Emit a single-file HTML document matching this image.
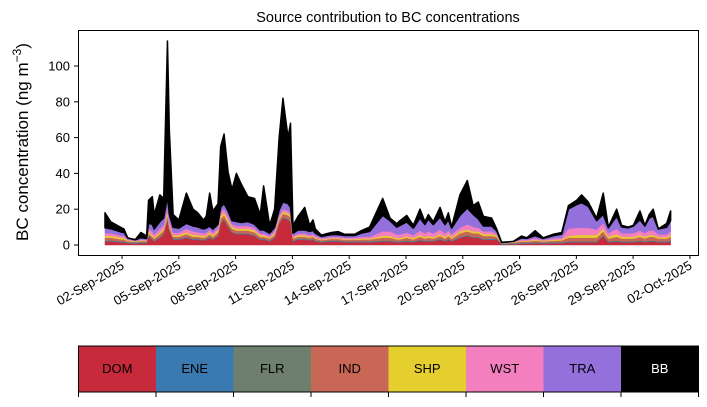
<!DOCTYPE html>
<html><head><meta charset="utf-8"><style>
body{margin:0;background:#fff;font-family:"Liberation Sans",sans-serif}
svg text{font-family:"Liberation Sans",sans-serif}
</style></head><body>
<svg id="chart" width="707" height="402">
<text x="388" y="22" text-anchor="middle" font-size="14.5">Source contribution to BC concentrations</text>
<text transform="translate(28,142) rotate(-90)" text-anchor="middle" font-size="17">BC concentration (ng m<tspan baseline-shift="super" font-size="12">−3</tspan>)</text>
<g id="areas"></g>
<rect x="78.5" y="30.5" width="620" height="225" fill="none" stroke="#000" stroke-width="1"/>
<g id="yticks"></g>
<g id="xticks"></g>
<g id="legend"></g>
</svg>
<script>
const names=["DOM","ENE","FLR","IND","SHP","WST","TRA","BB"];
const colors=["#c62a3b","#3a7ab0","#6e7f6e","#c96756","#e5cf2e","#f47fbf","#9370db","#000000"];
const days=[0.1,0.4,1.0,1.1,1.3,1.7,2.0,2.3,2.4,2.6,2.7,3.0,3.2,3.4,3.5,3.7,4.0,4.4,4.75,5.0,5.3,5.45,5.63,5.8,6.07,6.21,6.39,6.6,6.81,7.04,7.3,7.65,8.0,8.3,8.48,8.8,9.06,9.3,9.5,9.77,9.9,10.03,10.3,10.65,10.91,11.09,11.21,11.53,12.06,12.41,12.76,13.29,13.64,14.08,14.77,15.16,15.51,15.68,16.04,16.39,16.74,17.0,17.18,17.44,17.8,18.06,18.24,18.41,18.85,19.24,19.55,19.82,20.09,20.53,20.79,21.05,21.67,22.11,22.38,22.82,23.25,23.79,24.23,24.58,25.02,25.28,25.63,26.07,26.42,26.69,27.13,27.39,27.74,28.01,28.36,28.62,28.85,29.06,29.33,29.77,29.98];
const DOM=[2,2,1.5,1.5,1,0.8,1,1,5,3,2,4,6,14,8,3,3,4,3,3,2.5,3,4,3,5,12,14,10,7,6,6,6,5,3,3,2,4,12,15,14,13,2,3,3,2.5,3,2,1.5,2,2,1.5,1.5,1.5,1.5,2,2,1.5,1.5,2,1.5,2.5,2,2,2,3,2,3,2,4,5,4,4,3,3,3,0.3,0.4,0.8,0.8,1,0.8,1,1,1.5,1.5,1.5,1.5,1.5,5,1.5,2,1.5,1.5,1.5,2,1.5,2,2,1.5,1.5,2];
const ENE=[0.3,0.3,0.3,0.3,0.3,0.3,0.3,0.3,0.3,0.3,0.3,0.3,0.3,0.3,0.3,0.3,0.3,0.3,0.3,0.3,0.3,0.3,0.3,0.3,0.3,0.3,0.3,0.3,0.3,0.3,0.3,0.3,0.3,0.3,0.3,0.3,0.3,0.3,0.3,0.3,0.3,0.3,0.3,0.3,0.3,0.3,0.3,0.3,0.3,0.3,0.3,0.3,0.3,0.3,0.3,0.3,0.3,0.3,0.3,0.3,0.3,0.3,0.3,0.3,0.3,0.3,0.3,0.3,0.3,0.3,0.3,0.3,0.3,0.3,0.3,0.3,0.3,0.3,0.3,0.3,0.3,0.3,0.3,0.3,0.3,0.3,0.3,0.3,0.3,0.3,0.3,0.3,0.3,0.3,0.3,0.3,0.3,0.3,0.3,0.3,0.3];
const FLR=[0.3,0.3,0.3,0.3,0.3,0.3,0.3,0.3,0.3,0.3,0.3,0.3,0.3,0.3,0.3,0.3,0.3,0.3,0.3,0.3,0.3,0.3,0.3,0.3,0.3,0.3,0.3,0.3,0.3,0.3,0.3,0.3,0.3,0.3,0.3,0.3,0.3,0.3,0.3,0.3,0.3,0.3,0.3,0.3,0.3,0.3,0.3,0.3,0.3,0.3,0.3,0.3,0.3,0.3,0.3,0.3,0.3,0.3,0.3,0.3,0.3,0.3,0.3,0.3,0.3,0.3,0.3,0.3,0.3,0.3,0.3,0.3,0.3,0.3,0.3,0.3,0.3,0.3,0.3,0.3,0.3,0.3,0.3,0.3,0.3,0.3,0.3,0.3,0.3,0.3,0.3,0.3,0.3,0.3,0.3,0.3,0.3,0.3,0.3,0.3,0.3];
const IND=[1.5,1.5,1,1,0.5,0.4,0.6,0.5,1,1,1,1.5,1.5,2,1.5,1,1,1.5,1,1,1,1,1.5,1,1.5,2,2,2,1.5,1.5,1.5,1.5,1.5,1,1,1,1,1.5,2,2,2,1,1,1,1,1,1,0.6,0.8,0.8,0.8,0.8,1,1,1.5,1.5,1,1,1.5,1,1.5,1,1.5,1,1.5,1,1.5,1,2,2,2,2,1.5,1.5,1,0.1,0.3,0.6,0.6,0.8,0.6,0.8,1,2,2,2,2,2,2,1.5,2,1.5,1.5,1.5,2,1.5,2,2,1.5,1.5,2];
const SHP=[1,1,1,1,0.5,0.3,0.4,0.3,1,1,0.8,1,1,1.5,1,0.8,0.8,1,1,1,0.8,0.8,1,0.8,1,1.5,1.5,1.5,1,1,1,1,1,0.8,0.8,0.5,0.8,1,1,1,1,0.5,0.8,0.8,0.5,0.5,0.5,0.4,0.4,0.4,0.4,0.4,0.5,0.5,1,1,0.8,0.8,0.8,0.8,1,0.8,1,0.8,1,0.8,1,0.8,1,1,1,1,1,1,0.8,0.1,0.2,0.4,0.4,0.5,0.4,0.5,0.5,1,1.5,1.5,1.5,1.5,1.5,1,1.5,1,1,1,1,1,1,1,0.8,0.8,1];
const WST=[1.5,1.5,1,1,0.5,0.3,0.5,0.4,1.5,2,1.5,2,2,3,2,1.5,1.5,2,2,1.5,1.5,1.5,1.5,1.5,1.5,2,2,2,1.5,1.5,1.5,1.5,1.5,1,1,1,1.5,1.5,1.5,1.5,1.5,1,1,1,1,1,1,0.7,0.8,0.8,0.8,0.8,1,1,2.5,2.5,2,2,2,1.5,2.5,2,2.5,2,2.5,2,2,1.5,2,3,2.5,2,1.5,1.5,1,0.1,0.2,0.6,0.5,0.8,0.5,0.8,1,4,4,4,4,3,3,2,3,2,2,2,2.5,2,2.5,2.5,1.5,1.5,2];
const TRA=[3,2.5,2,2,0.8,0.5,1,0.8,3,4,3,4,4,6,4,3,2.5,3,3,3,2.5,2.5,2,2,2,3,3,3,2,2.5,2,2.5,2,2,2,1.5,2,3,4,4,3,1.5,2,2,2,2,1.5,1,1.2,1.2,1.2,1.2,2,3,9,6,4,5,6,4,7,5,7,5,7,5,6,3.5,7,9,7,5,3,3,1.5,0.2,0.3,1,0.8,1.5,0.8,1.5,2,11,13,14,12,5,5,3,7,3.5,3,4,6,4,7,8,3,4,6];
const BB=[8.4,3.9,2.4,1.9,0.1,0.1,2.9,1.4,12.9,15.4,8.1,14.9,10.9,86.9,46.9,7.1,4.6,16.9,9.4,7.9,5.1,6.6,18.4,10.1,11.4,33.9,38.9,21.9,17.4,26.9,21.4,13.9,14.4,8.6,24.6,4.4,10.1,40.4,57.9,36.9,46.9,4.4,7.6,12.6,3.4,5.9,2.4,0.7,1.2,1.7,0.7,0.7,1.4,2.4,9.4,1.4,2.1,2.7,3.6,1.6,4.9,1.6,2.4,1.6,5.4,1.6,3.9,0.6,11.4,15.4,4.9,9.4,5.4,4.4,1.1,0.1,0,1,0.3,2.8,0.3,0.8,0.9,1.9,2.4,4.4,2.4,1.4,11.9,0.4,3.9,0.9,0.4,0.4,4.9,0.4,1.9,3.9,0.1,2.1,5.4];
const series=[DOM,ENE,FLR,IND,SHP,WST,TRA,BB];
const yTicks=[0,20,40,60,80,100];
const xTickDays=[1,4,7,10,13,16,19,22,25,28,31];
const xTickLabels=["02-Sep-2025","05-Sep-2025","08-Sep-2025","11-Sep-2025","14-Sep-2025","17-Sep-2025","20-Sep-2025","23-Sep-2025","26-Sep-2025","29-Sep-2025","02-Oct-2025"];

const NS="http://www.w3.org/2000/svg";
const xs=d=>103.1+d*18.93;
const ys=v=>245-v*1.79;
function mk(tag,attrs,parent){const e=document.createElementNS(NS,tag);for(const k in attrs)e.setAttribute(k,attrs[k]);parent.appendChild(e);return e;}

const areas=document.getElementById('areas');
let base=days.map(()=>0);
series.forEach((s,i)=>{
  const top=base.map((b,j)=>b+s[j]);
  let pts=days.map((d,j)=>xs(d).toFixed(2)+","+ys(top[j]).toFixed(2));
  for(let j=days.length-1;j>=0;j--)pts.push(xs(days[j]).toFixed(2)+","+ys(base[j]).toFixed(2));
  const p=mk('polygon',{points:pts.join(" "),fill:colors[i],stroke:colors[i],'stroke-width':i==7?1.5:0.5,'stroke-linejoin':'round'},areas);
  
  
  base=top;
});

const yt=document.getElementById('yticks');
yTicks.forEach(v=>{
  const y=ys(v);
  mk('line',{x1:74,x2:78,y1:y,y2:y,stroke:'#000'},yt);
  const t=mk('text',{x:70,y:y+4.5,'text-anchor':'end','font-size':13},yt);
  t.textContent=v;
  
  
});
const xt=document.getElementById('xticks');
xTickDays.forEach((d,i)=>{
  const x=xs(d);
  mk('line',{x1:x,x2:x,y1:255,y2:259,stroke:'#000'},xt);
  const t=mk('text',{x:x+3,y:268,'text-anchor':'end','font-size':13,transform:`rotate(-30 ${x+3} 268)`},xt);
  t.textContent=xTickLabels[i];
  
  
});
const lg=document.getElementById('legend');
const cw=620/8;
names.forEach((n,i)=>{
  const x=78.5+i*cw;
  const r=mk('rect',{x:x,y:346,width:cw,height:46,fill:colors[i]},lg);
  
  
  const t=mk('text',{x:x+cw/2,y:373,'text-anchor':'middle','font-size':13,fill:i==7?'#fff':'#000'},lg);
  t.textContent=n;
  
  
});
mk('rect',{x:78.5,y:346,width:620,height:46,fill:'none',stroke:'#000','stroke-width':1},lg);
for(let i=0;i<=8;i++){const x=78.5+i*cw;mk('line',{x1:x,x2:x,y1:392,y2:397,stroke:'#000'},lg);}
</script>
</body></html>
